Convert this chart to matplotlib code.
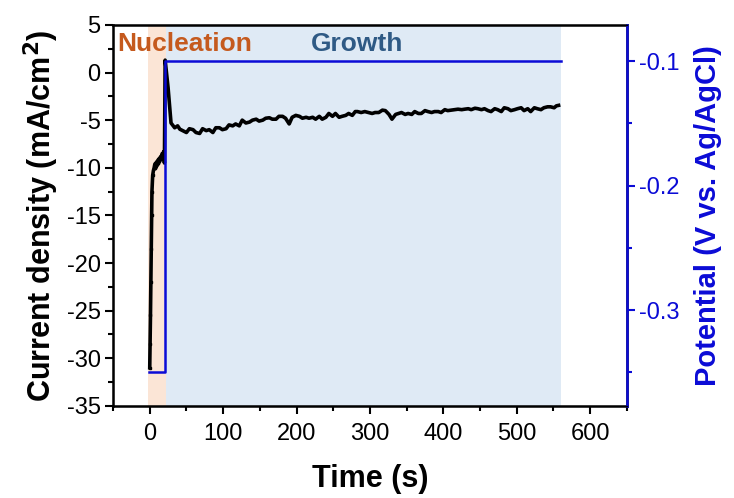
import matplotlib
matplotlib.use("Agg")
import matplotlib.pyplot as plt
from matplotlib.ticker import MultipleLocator

plt.rcParams["font.family"] = ["Liberation Sans", "DejaVu Sans"]
plt.rcParams["axes.unicode_minus"] = False

# ---- datos ----
# nucleacion (0-20 s)
t_nuc = [0, 0.5, 1, 1.5, 2, 2.5, 3, 4, 5, 6, 7, 8, 9, 10, 11, 12, 13, 14,
         15, 16, 17, 18, 19, 20]
j_nuc = [-31, -28.5, -25.5, -22, -18.5, -15, -12.5, -10.8, -10.3, -10.0,
         -9.6, -10.1, -9.4, -9.8, -9.2, -9.6, -9.0, -9.3, -8.8, -9.1, -8.5,
         -8.9, -8.3, -9.5]

# crecimiento (21-557 s)
t_gro = [21, 25, 29, 34, 38, 41, 45, 50, 54, 59, 63, 68, 72, 77, 81, 86, 90,
         95, 99, 104, 108, 113, 117, 122, 126, 131, 136, 140, 145, 149, 154,
         158, 163, 167, 172, 176, 181, 185, 190, 194, 199, 204, 208, 213, 217,
         222, 226, 231, 235, 240, 244, 249, 253, 258, 262, 267, 271, 276, 280,
         283, 288, 293, 298, 303, 307, 312, 317, 321, 326, 330, 335, 339, 343,
         348, 352, 357, 361, 366, 370, 375, 379, 384, 388, 393, 397, 402, 406,
         411, 416, 420, 425, 429, 434, 438, 443, 447, 452, 456, 461, 465, 470,
         474, 479, 483, 488, 492, 497, 501, 506, 510, 515, 519, 524, 528, 533,
         537, 542, 546, 551, 554, 557]
j_gro = [1.3, -1.6, -5.3, -5.8, -5.6, -5.95, -6.1, -6.3, -5.9, -6.0, -6.3,
         -6.4, -5.9, -6.1, -6.0, -6.3, -5.8, -5.8, -6.0, -5.9, -5.5, -5.6,
         -5.4, -5.6, -5.0, -5.3, -5.2, -5.0, -4.9, -5.1, -5.0, -4.8, -4.75,
         -4.9, -4.9, -4.6, -4.6, -4.8, -5.4, -4.7, -4.5, -4.6, -4.8, -4.7,
         -4.8, -4.7, -4.9, -4.6, -4.9, -4.7, -4.3, -4.6, -4.3, -4.7, -4.6,
         -4.5, -4.3, -4.5, -4.1, -4.1, -4.2, -4.1, -4.2, -4.3, -4.2, -4.2,
         -3.95, -4.0, -4.4, -4.9, -4.4, -4.3, -4.2, -4.4, -4.3, -4.4, -4.1,
         -4.3, -4.3, -4.0, -4.1, -4.2, -4.1, -4.1, -4.2, -3.9, -4.0, -3.95,
         -3.9, -3.85, -3.9, -3.85, -3.8, -3.9, -3.75, -3.8, -3.9, -3.8, -4.0,
         -4.1, -3.8, -3.9, -4.1, -3.7, -3.8, -4.0, -3.9, -3.8, -3.7, -4.0,
         -3.8, -4.1, -3.7, -3.8, -3.9, -3.7, -3.6, -3.6, -3.7, -3.5, -3.45]

t_j = t_nuc + t_gro
j = j_nuc + j_gro

# potencial aplicado (escalon)
t_pot = [-1, 21, 21, 560]
pot = [-0.35, -0.35, -0.1, -0.1]

nuc_span = (-3, 22)
gro_span = (22, 560)

c_blue = "#0b0bd6"

fig = plt.figure(figsize=(7.34, 4.98), dpi=100)
ax = fig.add_axes([0.154, 0.185, 0.700, 0.765])

ax.axvspan(*nuc_span, color="#fbe5d6", lw=0, zorder=0)
ax.axvspan(*gro_span, color="#dfeaf5", lw=0, zorder=0)

ax.plot(t_j, j, color="black", lw=2.6, zorder=3)
ax.plot(t_nuc[:8], j_nuc[:8], "s", color="black", ms=2, zorder=3)

ax.set_xlim(-50, 650)
ax.set_ylim(-35, 5)
ax.xaxis.set_major_locator(MultipleLocator(100))
ax.xaxis.set_minor_locator(MultipleLocator(50))
ax.yaxis.set_major_locator(MultipleLocator(5))
ax.yaxis.set_minor_locator(MultipleLocator(2.5))
ax.tick_params(which="both", direction="out", width=1.5, labelsize=17, pad=3)
ax.tick_params(axis="x", pad=6)
ax.tick_params(which="major", length=6)
ax.tick_params(which="minor", length=3.5)
for s in ax.spines.values():
    s.set_linewidth(1.8)
ax.set_xlabel("Time (s)", fontsize=22, fontweight="bold", labelpad=14)
ax.set_ylabel("Current density (mA/cm$^\\mathbf{2}$)", fontsize=22,
              fontweight="bold", labelpad=4)

ax.text(-44, 3.0, "Nucleation", color="#c55a1e", fontsize=19,
        fontweight="bold", va="center")
ax.text(282, 3.0, "Growth", color="#2f5a85", fontsize=19,
        fontweight="bold", va="center", ha="center")

ax2 = ax.twinx()
ax2.plot(t_pot, pot, color=c_blue, lw=1.8, zorder=2)
ax2.set_ylim(-0.377, -0.071)
ax2.yaxis.set_major_locator(MultipleLocator(0.1))
ax2.yaxis.set_minor_locator(MultipleLocator(0.05))
ax2.tick_params(which="both", direction="out", width=1.5, labelsize=17,
                colors=c_blue, pad=3)
ax2.tick_params(which="major", length=6)
ax2.tick_params(which="minor", length=3.5)
ax2.spines["right"].set_color(c_blue)
ax2.spines["right"].set_linewidth(1.8)
ax2.set_ylabel("Potential (V vs. Ag/AgCl)", fontsize=21, fontweight="bold",
               color=c_blue, labelpad=10)

fig.savefig("out.png", dpi=100)
